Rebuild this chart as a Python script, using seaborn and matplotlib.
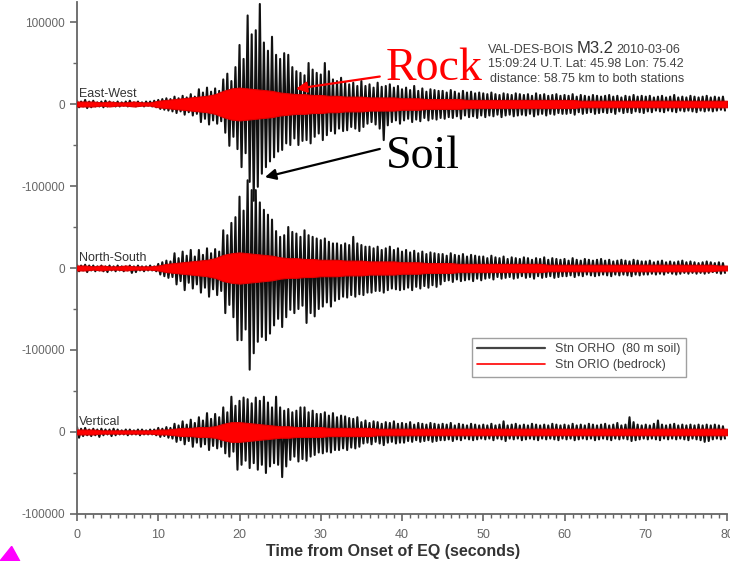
import numpy as np
import pandas as pd
import seaborn as sns
import matplotlib.pyplot as plt
from matplotlib.lines import Line2D
from matplotlib.patches import Polygon
from matplotlib.ticker import MultipleLocator

# peak values (x1000 counts) every 0.5 s, soil station ORHO
ew_hi = [4,3,5,3,4,2,3,4,3,2,3,2,3,4,2,3,2,3,3,4,
         5,6,7,6,9,7,10,8,12,9,18,14,20,15,19,16,30,37,28,45,
         72,55,108,85,90,122,75,65,82,60,55,62,60,45,40,38,35,50,42,38,
         36,50,40,30,28,32,27,24,26,22,28,22,24,20,26,21,22,24,20,22,
         18,20,17,22,16,19,15,18,17,16,16,14,17,15,13,16,14,15,13,14,
         13,12,14,12,11,13,12,11,13,12,11,12,10,13,11,12,10,11,12,10,
         11,10,12,9,11,10,9,11,10,9,10,11,9,10,8,10,9,11,9,10,
         9,10,8,9,10,8,9,11,8,9,8,10,9,8,9,10,8,9,8,9]
ew_lo = [-4,-3,-5,-4,-3,-3,-4,-3,-2,-3,-3,-2,-3,-2,-3,-2,-3,-2,-3,-4,
         -6,-7,-8,-9,-11,-9,-13,-10,-14,-12,-22,-18,-25,-20,-24,-21,-35,-51,-40,-55,
         -77,-60,-95,-118,-101,-85,-77,-70,-65,-58,-56,-48,-50,-42,-50,-45,-44,-48,-40,-36,
         -44,-38,-33,-36,-30,-33,-32,-28,-30,-33,-28,-24,-22,-25,-30,-44,-26,-22,-20,-24,
         -20,-18,-22,-19,-21,-17,-20,-18,-19,-17,-18,-16,-17,-15,-18,-14,-16,-15,-17,-14,
         -16,-14,-15,-13,-16,-14,-13,-15,-14,-13,-14,-12,-15,-13,-12,-14,-12,-13,-11,-12,
         -12,-11,-13,-10,-12,-11,-10,-12,-11,-10,-11,-10,-12,-9,-11,-10,-11,-9,-10,-11,
         -9,-10,-8,-9,-10,-8,-9,-10,-8,-9,-8,-9,-10,-8,-9,-8,-9,-8,-7,-8]

ns_hi = [4,3,4,3,3,2,3,2,3,2,3,2,2,3,2,3,2,2,3,2,
         5,7,9,8,18,12,20,15,22,14,22,16,24,18,23,20,46,40,55,62,
         87,70,107,95,95,80,71,65,59,45,38,40,50,44,42,38,46,40,38,36,
         34,36,32,30,30,28,30,28,38,30,28,26,26,24,26,22,24,26,22,24,
         20,22,19,21,18,20,17,19,18,17,17,15,18,16,15,17,14,16,15,14,
         14,12,15,13,12,14,11,13,12,11,13,12,10,12,11,13,10,12,11,10,
         11,9,12,10,9,11,10,9,10,11,9,10,8,9,10,9,8,10,9,8,
         8,9,7,8,9,7,8,7,8,9,7,8,7,6,7,8,7,6,7,6]
ns_lo = [-4,-3,-5,-3,-4,-3,-4,-5,-3,-4,-3,-4,-3,-6,-5,-3,-4,-3,-3,-4,
         -8,-10,-12,-11,-20,-16,-27,-18,-25,-20,-30,-24,-35,-26,-33,-28,-55,-45,-60,-88,
         -88,-75,-124,-104,-90,-84,-88,-80,-70,-62,-72,-60,-51,-55,-50,-46,-67,-55,-59,-50,
         -47,-42,-47,-40,-38,-35,-36,-33,-35,-32,-33,-30,-30,-28,-28,-30,-27,-25,-26,-27,
         -26,-24,-27,-23,-25,-22,-24,-21,-23,-20,-16,-15,-17,-14,-16,-15,-14,-16,-13,-15,
         -13,-12,-14,-11,-13,-12,-11,-13,-12,-10,-12,-11,-13,-10,-12,-11,-10,-12,-11,-10,
         -10,-9,-11,-9,-10,-8,-9,-10,-9,-8,-9,-10,-8,-9,-8,-9,-10,-8,-9,-8,
         -8,-7,-8,-7,-8,-6,-7,-8,-7,-6,-7,-6,-7,-6,-7,-6,-5,-6,-7,-6]

vt_hi = [6,4,5,3,4,3,4,3,3,4,3,2,3,3,2,3,3,2,3,3,
         5,4,6,5,10,8,13,9,15,11,18,14,23,16,22,18,30,24,43,32,
         38,42,40,35,42,38,43,36,30,43,30,26,28,24,26,30,30,24,26,22,
         22,24,20,23,18,20,19,17,16,18,12,14,11,13,12,10,12,11,13,10,
         11,10,12,9,11,10,9,11,10,9,10,9,11,8,10,9,8,10,9,8,
         9,8,10,8,9,13,8,9,10,8,9,8,10,9,8,9,8,10,9,8,
         9,8,10,8,9,8,10,9,8,9,10,8,9,11,8,9,18,12,9,8,
         9,8,10,14,9,8,9,10,8,9,8,9,8,9,8,9,8,9,8,7]
vt_lo = [-7,-5,-4,-5,-4,-6,-4,-3,-5,-4,-3,-3,-4,-3,-3,-4,-3,-3,-3,-4,
         -6,-5,-7,-8,-12,-10,-15,-11,-18,-13,-18,-15,-22,-17,-20,-18,-26,-30,-24,-46,
         -40,-35,-44,-38,-46,-40,-50,-42,-38,-40,-55,-42,-34,-30,-36,-33,-35,-30,-28,-25,
         -26,-24,-25,-22,-22,-20,-22,-19,-20,-18,-14,-13,-15,-12,-14,-16,-13,-12,-14,-13,
         -13,-11,-12,-10,-12,-11,-10,-12,-11,-10,-10,-9,-11,-9,-10,-8,-9,-10,-9,-8,
         -9,-8,-10,-8,-9,-11,-8,-9,-8,-10,-9,-8,-9,-10,-8,-9,-8,-9,-10,-8,
         -9,-8,-10,-9,-8,-9,-8,-10,-9,-8,-9,-10,-8,-9,-8,-9,-11,-10,-9,-8,
         -9,-8,-9,-10,-8,-9,-8,-9,-8,-9,-10,-8,-9,-10,-12,-11,-9,-8,-9,-8]

# half-width of the bedrock (ORIO) trace, x1000 counts, every 1 s from 0 to 80
ew_rock = [3,3,3,2,3,2,2,3,2,2, 4,5,6,7,8, 9,10,12, 16,19,20,19,18,17,16,
           14,13,12,12,11, 11,10,10,9,9,9,8,8,8,8, 7,7,7,6,6,6,6,6,5,5,
           5,5,5,5,5,5,5,5,5,5, 5,5,4,4,4,4,4,4,4,4, 4,4,4,4,4,4,4,4,4,4,4]
ns_rock = [3,3,2,3,2,2,3,2,2,2, 3,5,6,7,8, 9,10,12, 16,18,19,18,17,16,15,
           13,12,12,11,11, 10,10,10,9,9,9,8,8,8,8, 7,7,7,6,6,6,6,5,5,5,
           5,5,5,5,5,5,5,5,4,4, 4,4,4,4,4,4,4,4,4,4, 4,4,4,4,4,4,4,4,4,3,3]
vt_rock = [3,3,3,2,2,2,2,2,2,2, 3,3,4,5,5, 6,6,7, 10,12,12,11,10,9,8,
           7,7,6,6,6, 6,5,5,5,5,5,5,4,4,4, 4,4,4,4,4,4,4,4,4,4,
           4,4,4,4,4,4,4,4,4,4, 4,4,4,4,4,4,4,4,4,4, 4,4,4,4,4,4,4,4,4,4,4]

trace_names = ["East-West", "North-South", "Vertical"]
offsets = [0, -200000, -400000]

sns.set_style("ticks")
plt.rcParams["font.family"] = ["Liberation Sans", "DejaVu Sans"]

t_half = np.arange(0, 80, 0.5)
t_sec = np.arange(0, 81, 1)

rows = []
for name, off, hi, lo in zip(trace_names, offsets, [ew_hi, ns_hi, vt_hi], [ew_lo, ns_lo, vt_lo]):
    tt = np.empty(2 * len(hi))
    vv = np.empty(2 * len(hi))
    tt[0::2] = t_half
    tt[1::2] = t_half + 0.25
    vv[0::2] = np.array(hi) * 1000 + off
    vv[1::2] = np.array(lo) * 1000 + off
    rows.append(pd.DataFrame({"t": tt, "v": vv, "trace": name}))
soil = pd.concat(rows, ignore_index=True)

fig = plt.figure(figsize=(7.30, 5.61), dpi=100)
ax = fig.add_axes([0.1055, 0.0838, 0.8904, 0.9135])

sns.lineplot(data=soil, x="t", y="v", units="trace", estimator=None, sort=False,
             color="#111111", lw=1.5, ax=ax, legend=False)

for off, amp in zip(offsets, [ew_rock, ns_rock, vt_rock]):
    amp = np.array(amp) * 1000
    ax.fill_between(t_sec, off + amp, off - amp, color="#ff0000", ec="#e00000", lw=0.8, zorder=3)

ax.set_xlim(0, 80)
ax.set_ylim(-500000, 125000)
ax.set_yticks([100000, 0, -100000, -200000, -300000, -400000, -500000])
ax.set_yticklabels(["100000", "0", "-100000", "0", "-100000", "0", "-100000"])
ax.yaxis.set_minor_locator(MultipleLocator(50000))
ax.xaxis.set_major_locator(MultipleLocator(10))
ax.xaxis.set_minor_locator(MultipleLocator(1))
ax.tick_params(axis="both", which="major", labelsize=8.5, colors="#666666", length=5, width=1.2)
ax.tick_params(axis="both", which="minor", colors="#666666", length=3, width=1.0)
ax.tick_params(axis="x", labelsize=9, pad=6)
ax.set_xlabel("Time from Onset of EQ (seconds)", fontsize=11.5, fontweight="bold",
              color="#333333")
ax.xaxis.set_label_coords(0.486, -0.058)
ax.set_ylabel("")
for s in ["top", "right"]:
    ax.spines[s].set_visible(False)
for s in ["left", "bottom"]:
    ax.spines[s].set_color("#666666")
    ax.spines[s].set_linewidth(1.3)

for name, off in zip(trace_names, offsets):
    ax.text(0.2, off + 5000, name, fontsize=9, color="#333333", va="bottom")

ax.text(50.6, 66000, "VAL-DES-BOIS", fontsize=9, color="#444444", va="center")
ax.text(61.5, 67500, "M3.2", fontsize=12, color="#333333", va="center")
ax.text(66.4, 66000, "2010-03-06", fontsize=9, color="#444444", va="center")
ax.text(50.6, 49000, "15:09:24 U.T. Lat: 45.98 Lon: 75.42", fontsize=9, color="#444444", va="center")
ax.text(50.8, 31000, "distance: 58.75 km to both stations", fontsize=9, color="#444444", va="center")

ax.annotate("", xy=(26.6, 18000), xytext=(37.6, 34000),
            arrowprops=dict(arrowstyle="-|>", color="#ff0000", lw=1.6, mutation_scale=16))
ax.annotate("", xy=(22.8, -90000), xytext=(37.6, -54000),
            arrowprops=dict(arrowstyle="-|>", color="black", lw=1.6, mutation_scale=16))
ax.text(38.0, 43000, "Rock", fontsize=33, color="#ff0000", family="Liberation Serif", va="center")
ax.text(38.0, -64000, "Soil", fontsize=33, color="black", family="Liberation Serif", va="center")

handles = [Line2D([], [], color="#444444", lw=1.6), Line2D([], [], color="#ff0000", lw=1.2)]
leg = ax.legend(handles, ["Stn ORHO  (80 m soil)", "Stn ORIO (bedrock)"],
                loc="upper left", bbox_to_anchor=(0.607, 0.344), borderaxespad=0,
                fontsize=9, handlelength=5.4, handletextpad=0.8, frameon=True, fancybox=False,
                edgecolor="#888888", labelcolor="#444444", borderpad=0.45, labelspacing=0.3)
leg.get_frame().set_linewidth(1.0)

fig.add_artist(Polygon([[0.0, 0.0], [0.027, 0.0], [0.016, 0.026]], closed=True,
                       transform=fig.transFigure, color="#ff00ff"))

fig.savefig("out.png", dpi=100)
